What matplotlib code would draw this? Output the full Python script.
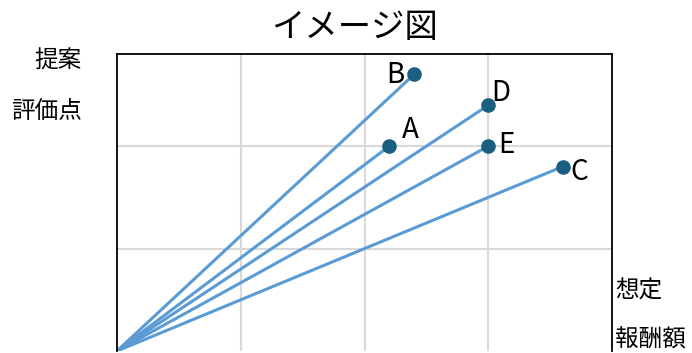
import matplotlib.pyplot as plt

# datos
nombres = ["A", "B", "C", "D", "E"]
reward = [2.2, 2.4, 3.6, 3.0, 3.0]   # 想定報酬額
score = [2.0, 2.7, 1.8, 2.4, 2.0]    # 提案評価点

# desplazamiento del centro de cada letra respecto del punto (pixeles)
offsets = {"A": (21, 16), "B": (-19, -1), "C": (17, -5), "D": (13, 12), "E": (18, 1)}

jp = ["Noto Sans CJK JP", "DejaVu Sans"]

fig = plt.figure(figsize=(6.92, 3.53), dpi=100)
ax = fig.add_axes([117 / 692, 2 / 353, 495 / 692, 297 / 353])

for xv, yv in zip(reward, score):
    ax.plot([0, xv], [0, yv], color="#5B9BD5", lw=2.2, solid_capstyle="round", zorder=2)
ax.plot(reward, score, "o", color="#1A5E80", ms=9.5, zorder=3)

for n, xv, yv in zip(nombres, reward, score):
    dx, dy = offsets[n]
    ax.annotate(n, (xv, yv), xytext=(dx * 0.72, dy * 0.72), textcoords="offset points",
                ha="center", va="center", fontsize=20, family=jp, color="black")

ax.set_xlim(0, 4)
ax.set_ylim(0, 2.9)
ax.set_xticks([1, 2, 3])
ax.set_yticks([1, 2])
ax.grid(True, color="#D9D9D9", lw=1.5)
ax.set_axisbelow(True)
ax.tick_params(length=0, labelbottom=False, labelleft=False)
for s in ["left", "top", "right"]:
    ax.spines[s].set_linewidth(1.3)
ax.spines["bottom"].set_visible(False)

fig.text(355 / 692, 1 - 28 / 353, "イメージ図", ha="center", va="center", fontsize=24, family=jp)
fig.text(82 / 692, 1 - 61 / 353, "提案", ha="right", va="center", fontsize=17, family=jp)
fig.text(82 / 692, 1 - 111 / 353, "評価点", ha="right", va="center", fontsize=17, family=jp)
fig.text(615 / 692, 1 - 291 / 353, "想定", ha="left", va="center", fontsize=17, family=jp)
fig.text(615 / 692, 1 - 340 / 353, "報酬額", ha="left", va="center", fontsize=17, family=jp)

fig.savefig("out.png", dpi=100)
